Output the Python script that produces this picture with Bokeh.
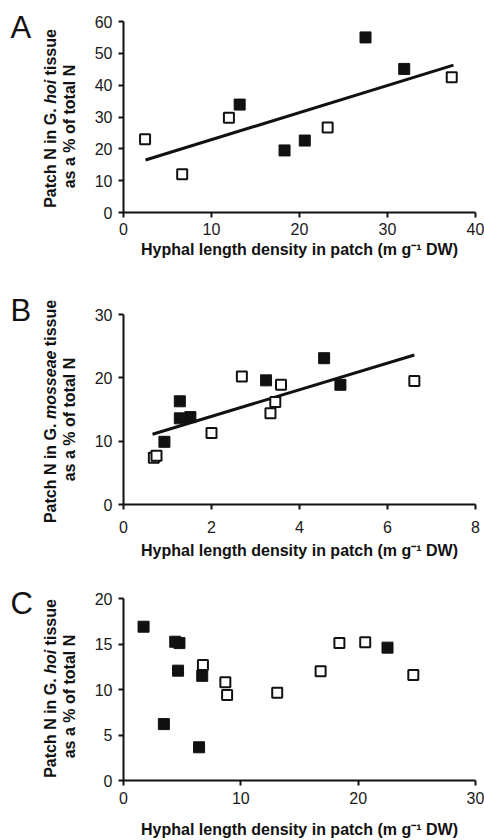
import math
from bokeh.plotting import figure
from bokeh.models import Range1d, FixedTicker
from bokeh.layouts import column
from bokeh.core.properties import value
from bokeh.embed import file_html
from bokeh.resources import INLINE

# ---------------- data ----------------
# Panel A : G. hoi, hyphal length 0-40
a_open_x = [2.45, 6.67, 11.98, 23.2, 37.3]
a_open_y = [23.0, 12.0, 29.8, 26.7, 42.5]
a_fill_x = [13.2, 18.3, 20.6, 27.5, 31.9]
a_fill_y = [33.9, 19.5, 22.6, 55.0, 45.1]
a_fit_x = [2.5, 37.5]
a_fit_y = [16.5, 46.3]
a_xticks = [0, 10, 20, 30, 40]
a_yticks = [0, 10, 20, 30, 40, 50, 60]

# Panel B : G. mosseae, hyphal length 0-8
b_open_x = [0.69, 0.75, 2.0, 2.69, 3.34, 3.45, 3.58, 6.61]
b_open_y = [7.4, 7.7, 11.3, 20.2, 14.4, 16.2, 18.9, 19.5]
b_fill_x = [0.93, 1.28, 1.28, 1.52, 3.24, 4.56, 4.93]
b_fill_y = [9.9, 16.3, 13.6, 13.8, 19.6, 23.1, 18.9]
b_fit_x = [0.66, 6.61]
b_fit_y = [11.1, 23.6]
b_xticks = [0, 2, 4, 6, 8]
b_yticks = [0, 10, 20, 30]

# Panel C : G. hoi, hyphal length 0-30
c_open_x = [6.77, 8.68, 8.83, 13.1, 16.8, 18.4, 20.6, 24.7]
c_open_y = [12.7, 10.8, 9.4, 9.65, 12.0, 15.1, 15.2, 11.6]
c_fill_x = [1.71, 3.44, 4.41, 4.77, 4.65, 6.44, 6.71, 22.5]
c_fill_y = [16.9, 6.2, 15.25, 15.1, 12.07, 3.65, 11.5, 14.6]
c_xticks = [0, 10, 20, 30]
c_yticks = [0, 5, 10, 15, 20]

panel_letters = ["A", "B", "C"]
species_names = ["hoi", "mosseae", "hoi"]
x_label = "Hyphal length density in patch (m g\u207b\u00b9 DW)"
y_prefix = "Patch N in G."
y_suffix = "tissue"
y_line2 = "as a % of total N"

FONT = "Liberation Sans"
FS = 16
W = 484
X0_PX = 123      # pixel column of x = 0
X1_PX = 475      # pixel column of the last x tick
INK = "#111111"

# Arial/Liberation Sans Bold advance widths (per 1000 em) for label layout
BW = {' ': 278, 'P': 667, 'a': 556, 't': 333, 'c': 556, 'h': 611, 'N': 722,
      'i': 278, 'n': 611, 'G': 778, '.': 278, 'o': 611, 's': 556, 'u': 611,
      'e': 556, 'm': 889, '%': 889, 'f': 333, 'l': 278}


def tw(s):
    return sum(BW.get(ch, 556) for ch in s) * FS / 1000.0


def panel(xt, yt, H, top, frame_h, tick_standoff, letter, letter_base,
          species, ylab_mid, xlab_py):
    xmax, ymax = xt[-1], yt[-1]
    ppx = (X1_PX - X0_PX) / xmax
    ppy = frame_h / ymax
    axis_py = top + frame_h

    def X(px):
        return (px - X0_PX) / ppx

    def Y(py):
        return (axis_py - py) / ppy

    p = figure(width=W, height=H, x_range=Range1d(X(0), X(W)), y_range=Range1d(Y(H), Y(0)),
               output_backend="svg", toolbar_location=None, title=None,
               min_border_left=0, min_border_right=0, min_border_top=0, min_border_bottom=0)
    p.outline_line_color = None
    p.grid.visible = False
    p.background_fill_color = "white"
    p.border_fill_color = "white"
    for ax in (p.xaxis[0], p.yaxis[0]):
        ax.fixed_location = 0
        ax.axis_line_width = 2
        ax.axis_line_color = INK
        ax.major_tick_line_width = 2
        ax.major_tick_line_color = INK
        ax.major_tick_out = 5
        ax.major_tick_in = 0
        ax.minor_tick_line_color = None
        ax.major_label_text_font = FONT
        ax.major_label_text_font_size = f"{FS}px"
        ax.major_label_text_color = "#1a1a1a"
    p.xaxis.bounds = (0, xmax)
    p.yaxis.bounds = (0, ymax)
    p.xaxis.ticker = FixedTicker(ticks=xt)
    p.yaxis.ticker = FixedTicker(ticks=yt)
    p.xaxis.major_label_standoff = tick_standoff
    p.yaxis.major_label_standoff = 6

    # panel letter
    p.text(x=[X(10)], y=[Y(letter_base)], text=[letter], text_font=value(FONT),
           text_font_size="31px", text_color=INK, text_baseline="alphabetic", text_align="left")

    # y label: two rotated lines, species name in bold italics
    pre = y_prefix + " "
    total = tw(pre + species + " " + y_suffix)
    start = ylab_mid + total / 2.0          # pixel row where line 1 begins (bottom)
    seg_py = [start, start - tw(pre), start - tw(pre + species + " ")]
    seg_t = [y_prefix, species, y_suffix]
    seg_st = ["bold", "bold italic", "bold"]
    for py, tt, st in zip(seg_py, seg_t, seg_st):
        p.text(x=[X(50)], y=[Y(py)], text=[tt], angle=math.pi / 2, text_font=value(FONT),
               text_font_size=f"{FS}px", text_font_style=st, text_color=INK,
               text_baseline="middle", text_align="left")
    p.text(x=[X(69)], y=[Y(ylab_mid + 8)], text=[y_line2], angle=math.pi / 2,
           text_font=value(FONT), text_font_size=f"{FS}px", text_font_style="bold",
           text_color=INK, text_baseline="middle", text_align="center")

    # x label
    p.text(x=[X((X0_PX + X1_PX) / 2.0)], y=[Y(xlab_py)], text=[x_label], text_font=value(FONT),
           text_font_size=f"{FS}px", text_font_style="bold", text_color=INK,
           text_baseline="middle", text_align="center")
    return p


def open_sq(p, xs, ys):
    p.scatter(xs, ys, marker="square", size=10, fill_color="white",
              line_color=INK, line_width=2)


def fill_sq(p, xs, ys):
    p.scatter(xs, ys, marker="square", size=11, fill_color=INK,
              line_color=INK, line_width=1)


pA = panel(a_xticks, a_yticks, 280, 21, 191, 5, panel_letters[0], 27, species_names[0], 118, 249)
pA.line(a_fit_x, a_fit_y, line_width=3, line_color=INK)
open_sq(pA, a_open_x, a_open_y)
fill_sq(pA, a_fill_x, a_fill_y)

pB = panel(b_xticks, b_yticks, 282, 34, 190, 11, panel_letters[1], 30, species_names[1], 131, 270)
pB.line(b_fit_x, b_fit_y, line_width=3, line_color=INK)
fill_sq(pB, b_fill_x, b_fill_y)
open_sq(pB, b_open_x, b_open_y)

pC = panel(c_xticks, c_yticks, 276, 36, 182, 6, panel_letters[2], 41, species_names[2], 126, 267)
open_sq(pC, c_open_x, c_open_y)
fill_sq(pC, c_fill_x, c_fill_y)

layout = column(pA, pB, pC, spacing=0)
open("out.html", "w").write(file_html(layout, INLINE))
